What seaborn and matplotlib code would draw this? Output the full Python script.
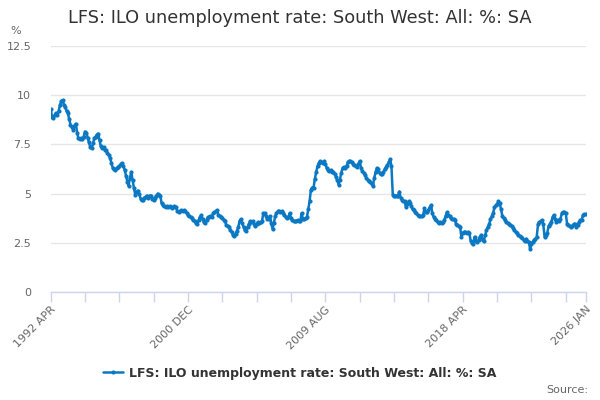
import numpy as np
import pandas as pd
import matplotlib
matplotlib.use("Agg")
import matplotlib.pyplot as plt
import seaborn as sns

# ---- data (monthly, starting 1992 APR) ----
start_month = "1992-04-01"
series_name = "LFS: ILO unemployment rate: South West: All: %: SA"

rate_1992_1995 = [9.3, 8.9, 8.85, 9.0, 9.1, 9.0, 9.2, 9.5, 9.7, 9.75, 9.5, 9.4,
                  9.2, 9.1, 8.8, 8.5, 8.4, 8.25, 8.45, 8.55, 8.1, 7.8, 7.75, 7.8,
                  7.75, 7.9, 8.15, 8.1, 7.85, 7.6, 7.35, 7.3, 7.55, 7.8, 7.9, 8.0,
                  8.05, 7.7, 7.4, 7.3, 7.35, 7.2, 7.2, 7.05, 6.95, 6.8, 6.55, 6.3]
rate_1996_1999 = [6.25, 6.2, 6.3, 6.35, 6.4, 6.5, 6.55, 6.4, 6.2, 5.9, 5.6, 5.4,
                  5.8, 6.1, 5.7, 5.3, 4.95, 5.1, 5.15, 5.0, 4.75, 4.7, 4.7, 4.8,
                  4.85, 4.9, 4.8, 4.9, 4.9, 4.75, 4.65, 4.8, 4.9, 5.0, 4.95, 4.9,
                  4.5, 4.4, 4.35, 4.3, 4.35, 4.3, 4.35, 4.3, 4.25, 4.35, 4.3, 4.3]
rate_2000_2003 = [4.1, 4.05, 4.1, 4.15, 4.1, 4.15, 4.1, 4.0, 3.9, 3.85, 3.8, 3.75,
                  3.65, 3.6, 3.5, 3.45, 3.65, 3.8, 3.9, 3.7, 3.55, 3.5, 3.65, 3.8,
                  3.8, 3.85, 3.8, 4.0, 4.05, 4.1, 4.15, 3.9, 3.85, 3.8, 3.75, 3.65,
                  3.6, 3.4, 3.35, 3.3, 3.15, 3.05, 2.9, 2.85, 2.95, 3.1, 3.3, 3.6]
rate_2004_2007 = [3.7, 3.5, 3.3, 3.15, 3.1, 3.3, 3.45, 3.6, 3.55, 3.6, 3.45, 3.35,
                  3.45, 3.55, 3.5, 3.55, 3.6, 4.0, 4.0, 3.85, 3.7, 3.7, 3.85, 3.5,
                  3.2, 3.5, 3.85, 4.0, 4.1, 4.1, 4.05, 4.1, 4.0, 3.9, 3.8, 3.75,
                  3.8, 4.0, 3.75, 3.65, 3.6, 3.6, 3.6, 3.65, 3.6, 3.6, 4.0, 3.7]
rate_2008_2011 = [3.7, 3.75, 3.8, 4.2, 4.6, 5.2, 5.3, 5.3, 5.75, 6.1, 6.4, 6.55,
                  6.65, 6.6, 6.55, 6.65, 6.5, 6.3, 6.2, 6.15, 6.2, 6.1, 6.1, 6.0,
                  5.85, 5.7, 5.45, 5.7, 6.05, 6.3, 6.35, 6.3, 6.4, 6.6, 6.65, 6.65,
                  6.6, 6.5, 6.45, 6.4, 6.35, 6.5, 6.65, 6.3, 6.15, 6.05, 5.95, 5.8]
rate_2012_2015 = [5.7, 5.65, 5.6, 5.5, 5.4, 5.8, 6.1, 6.3, 6.25, 6.05, 6.0, 6.0,
                  6.1, 6.25, 6.35, 6.45, 6.6, 6.75, 6.4, 4.95, 4.9, 4.9, 4.9, 4.9,
                  5.1, 4.8, 4.7, 4.6, 4.6, 4.3, 4.45, 4.6, 4.5, 4.35, 4.2, 4.15,
                  4.05, 4.0, 3.9, 3.85, 3.85, 3.85, 3.9, 4.25, 4.05, 4.05, 4.15, 4.3]
rate_2016_2019 = [4.4, 4.0, 3.8, 3.7, 3.65, 3.55, 3.5, 3.55, 3.5, 3.55, 3.65, 3.85,
                  4.05, 3.9, 3.85, 3.75, 3.7, 3.7, 3.65, 3.45, 3.4, 3.35, 3.3, 2.8,
                  3.0, 3.05, 3.05, 3.0, 3.05, 3.0, 2.6, 2.5, 2.45, 2.8, 2.6, 2.55,
                  2.65, 2.8, 2.9, 2.65, 2.6, 2.9, 3.15, 3.3, 3.45, 3.7, 3.85, 4.0]
rate_2020_2023 = [4.3, 4.4, 4.45, 4.6, 4.5, 4.2, 3.85, 3.75, 3.65, 3.55, 3.5, 3.45,
                  3.4, 3.35, 3.25, 3.15, 3.05, 3.0, 2.9, 2.85, 2.8, 2.75, 2.65, 2.6,
                  2.7, 2.6, 2.55, 2.2, 2.45, 2.55, 2.65, 2.7, 2.8, 3.45, 3.55, 3.6,
                  3.65, 3.45, 2.8, 2.9, 3.0, 3.35, 3.45, 3.55, 3.8, 3.9, 3.7, 3.55]
rate_2024_2026 = [3.65, 3.6, 3.7, 4.0, 4.05, 4.05, 4.0, 3.45, 3.4, 3.35, 3.3, 3.35,
                  3.45, 3.45, 3.3, 3.4, 3.55, 3.65, 3.65, 3.9, 3.95, 3.95]

rate = (rate_1992_1995 + rate_1996_1999 + rate_2000_2003 + rate_2004_2007 +
        rate_2008_2011 + rate_2012_2015 + rate_2016_2019 + rate_2020_2023 +
        rate_2024_2026)

y_ticks = [0, 2.5, 5, 7.5, 10, 12.5]
y_tick_labels = ["0", "2.5", "5", "7.5", "10", "12.5"]
x_tick_step_months = 26
x_label_names = ["1992 APR", "2000 DEC", "2009 AUG", "2018 APR", "2026 JAN"]

dates = pd.date_range(start_month, periods=len(rate), freq="MS")
df = pd.DataFrame({"date": dates, "rate": rate})

# ---- figure ----
sns.set_theme(style="white")
plt.rcParams["font.family"] = ["DejaVu Sans"]

line_color = "#0a78c2"
axis_color = "#ccd6eb"
text_gray = "#666666"

fig = plt.figure(figsize=(6, 4), dpi=100)
ax = fig.add_axes([0.0845, 0.27, 0.8915, 0.615])

sns.lineplot(data=df, x="date", y="rate", ax=ax, color=line_color,
             linewidth=1.8, marker="o", markersize=3.0, markeredgewidth=0,
             label=series_name, legend=False)

ax.set_xlim(dates[0], dates[-1])
ax.set_ylim(0, 12.5)
ax.set_yticks(y_ticks)
ax.set_yticklabels(y_tick_labels, color=text_gray, fontsize=8)
ax.yaxis.grid(True, color="#e6e6e6", linewidth=1)
ax.xaxis.grid(False)
ax.tick_params(axis="y", length=0, pad=14)

# x ticks every 26 months, plus the final month
n = len(dates)
tick_idx = list(range(0, n, x_tick_step_months))
if tick_idx[-1] != n - 1:
    tick_idx.append(n - 1)
tick_dates = [dates[i] for i in tick_idx]
labels = []
label_iter = iter(x_label_names)
label_positions = [0, 4 * x_tick_step_months, 8 * x_tick_step_months,
                   12 * x_tick_step_months, n - 1]
for i in tick_idx:
    if i in label_positions:
        labels.append(next(label_iter))
    else:
        labels.append("")
ax.set_xticks(tick_dates)
ax.set_xticklabels(labels, rotation=45, ha="right", rotation_mode="anchor",
                   color=text_gray, fontsize=8)
ax.tick_params(axis="x", direction="out", length=7, width=1, color=axis_color,
               pad=2, bottom=True)

for side in ["top", "right", "left"]:
    ax.spines[side].set_visible(False)
ax.spines["bottom"].set_color(axis_color)
ax.spines["bottom"].set_linewidth(1)
ax.set_xlabel("")
ax.set_ylabel("")

# texts
fig.text(0.5, 0.955, series_name, ha="center", va="center",
         fontsize=12.8, color="#333333")
fig.text(0.017, 0.922, "%", ha="left", va="center", fontsize=8, color=text_gray)
fig.text(0.98, 0.025, "Source:", ha="right", va="center", fontsize=8,
         color=text_gray)

handles = ax.get_lines()[:1]
leg = fig.legend(handles, [series_name], loc="center", bbox_to_anchor=(0.5, 0.067),
                 frameon=False, handlelength=1.6, handletextpad=0.5,
                 prop={"weight": "bold", "size": 9})
for t in leg.get_texts():
    t.set_color("#333333")

fig.savefig("out.png", dpi=100)
